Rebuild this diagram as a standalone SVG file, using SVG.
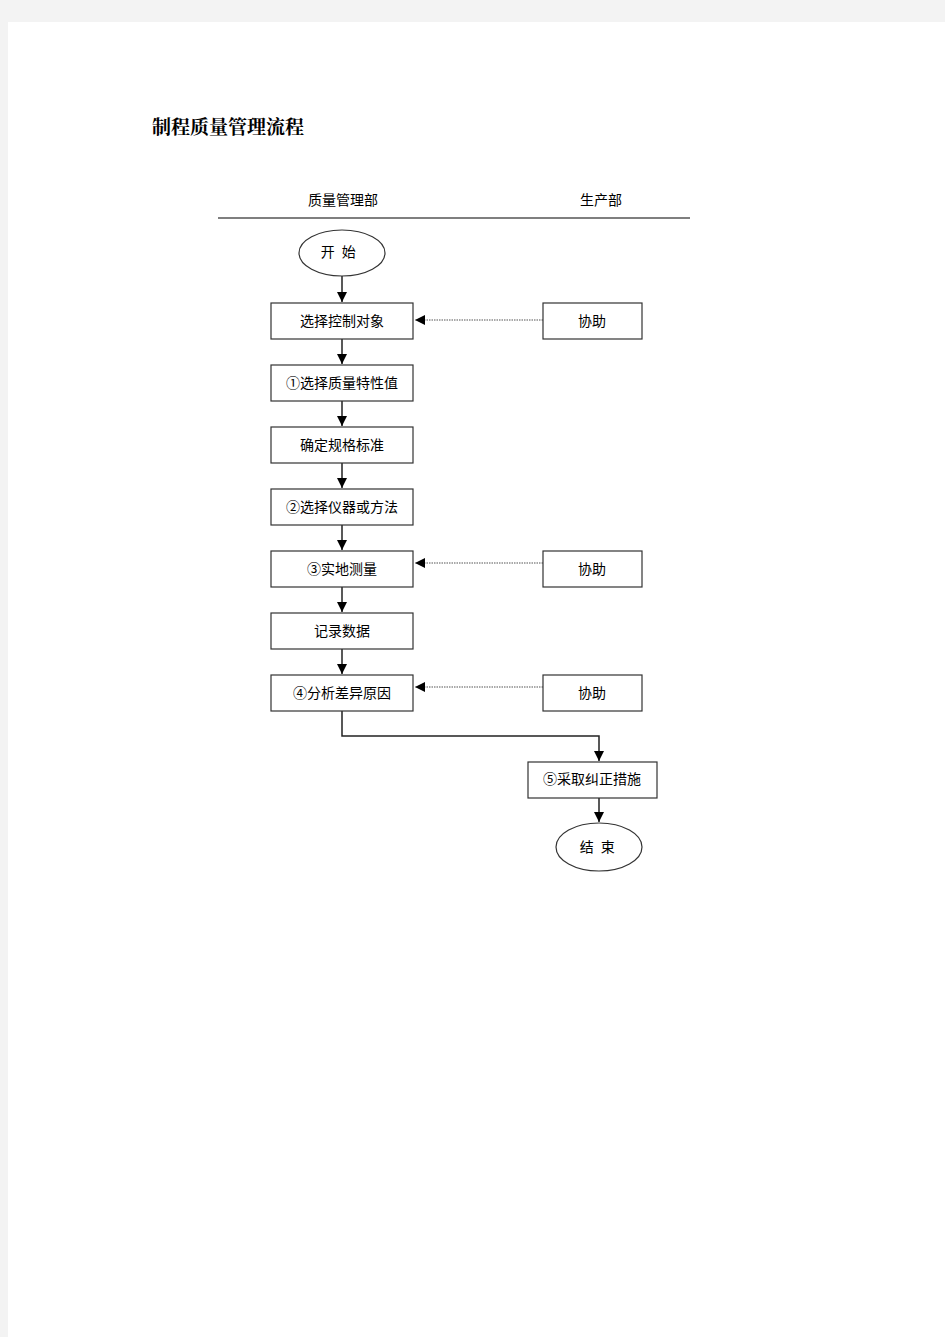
<svg xmlns="http://www.w3.org/2000/svg" width="945" height="1337" viewBox="0 0 945 1337">
<style>
.box{fill:#fff;stroke:#333;stroke-width:1.2}
.t{font-family:"Liberation Sans","Noto Sans CJK SC",sans-serif;font-size:14px;fill:#000;text-anchor:middle;dominant-baseline:central}
.ln{fill:none;stroke:#222;stroke-width:1.5}
.dot{fill:none;stroke:#555;stroke-width:1.2;stroke-dasharray:1.5 1}
</style>
<defs>
<marker id="ah" viewBox="0 0 10 10" refX="10" refY="5" markerWidth="10" markerHeight="10" markerUnits="userSpaceOnUse" orient="auto">
<path d="M0,0 L10,5 L0,10 Z" fill="#000"/>
</marker>
</defs>
<rect x="0" y="0" width="945" height="1337" fill="#f3f3f3"/>
<rect x="8" y="22" width="937" height="1315" fill="#fff"/>
<text x="152" y="134" style="font-family:'Noto Serif CJK SC','Noto Sans CJK SC',serif;font-size:19px;font-weight:bold">制程质量管理流程</text>
<text class="t" x="343" y="200">质量管理部</text>
<text class="t" x="601" y="200">生产部</text>
<line x1="218" y1="218" x2="690" y2="218" stroke="#000" stroke-width="1.2"/>
<g id="connectors">
<line class="ln" x1="342" y1="276" x2="342" y2="302" marker-end="url(#ah)"/>
<line class="ln" x1="342" y1="339" x2="342" y2="364" marker-end="url(#ah)"/>
<line class="ln" x1="342" y1="401" x2="342" y2="426" marker-end="url(#ah)"/>
<line class="ln" x1="342" y1="463" x2="342" y2="488" marker-end="url(#ah)"/>
<line class="ln" x1="342" y1="525" x2="342" y2="550" marker-end="url(#ah)"/>
<line class="ln" x1="342" y1="587" x2="342" y2="612" marker-end="url(#ah)"/>
<line class="ln" x1="342" y1="649" x2="342" y2="674" marker-end="url(#ah)"/>
<polyline class="ln" points="342,711 342,736 599,736 599,761" marker-end="url(#ah)"/>
<line class="ln" x1="599" y1="798" x2="599" y2="822" marker-end="url(#ah)"/>
<line class="dot" x1="543" y1="320" x2="415" y2="320" marker-end="url(#ah)"/>
<line class="dot" x1="543" y1="563" x2="415" y2="563" marker-end="url(#ah)"/>
<line class="dot" x1="543" y1="687" x2="415" y2="687" marker-end="url(#ah)"/>
</g>
<g id="start"><ellipse class="box" cx="342" cy="253" rx="43" ry="23"/><text class="t" x="339" y="252" letter-spacing="1.5">开 始</text></g>
<g id="n1"><rect class="box" x="271" y="303" width="142" height="36"/><text class="t" x="342" y="321">选择控制对象</text></g>
<g id="n2"><rect class="box" x="271" y="365" width="142" height="36"/><text class="t" x="342" y="383">①选择质量特性值</text></g>
<g id="n3"><rect class="box" x="271" y="427" width="142" height="36"/><text class="t" x="342" y="445">确定规格标准</text></g>
<g id="n4"><rect class="box" x="271" y="489" width="142" height="36"/><text class="t" x="342" y="507">②选择仪器或方法</text></g>
<g id="n5"><rect class="box" x="271" y="551" width="142" height="36"/><text class="t" x="342" y="569">③实地测量</text></g>
<g id="n6"><rect class="box" x="271" y="613" width="142" height="36"/><text class="t" x="342" y="631">记录数据</text></g>
<g id="n7"><rect class="box" x="271" y="675" width="142" height="36"/><text class="t" x="342" y="693">④分析差异原因</text></g>
<g id="h1"><rect class="box" x="543" y="303" width="99" height="36"/><text class="t" x="592" y="321">协助</text></g>
<g id="h2"><rect class="box" x="543" y="551" width="99" height="36"/><text class="t" x="592" y="569">协助</text></g>
<g id="h3"><rect class="box" x="543" y="675" width="99" height="36"/><text class="t" x="592" y="693">协助</text></g>
<g id="n8"><rect class="box" x="528" y="762" width="129" height="36"/><text class="t" x="592" y="779">⑤采取纠正措施</text></g>
<g id="end"><ellipse class="box" cx="599" cy="847" rx="43" ry="24"/><text class="t" x="598" y="847" letter-spacing="1.5">结 束</text></g>
</svg>
